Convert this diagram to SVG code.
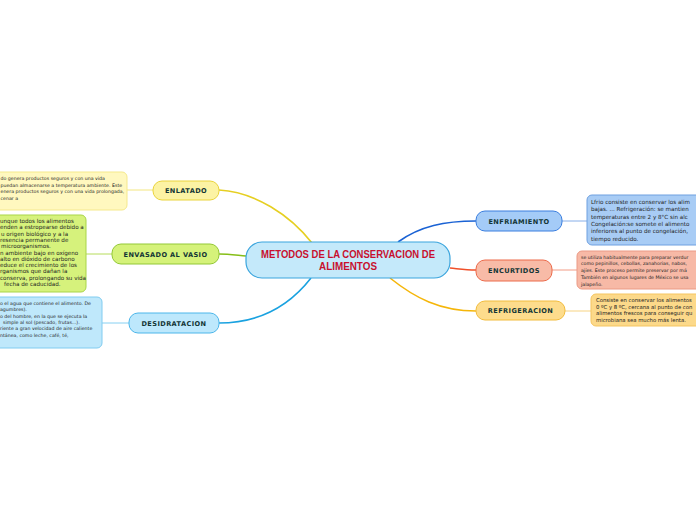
<svg xmlns="http://www.w3.org/2000/svg" width="696" height="520" viewBox="0 0 696 520">
<style>
.lbl{font-family:"DejaVu Sans",Verdana,sans-serif;font-weight:bold;font-size:6.6px;fill:#123535;text-anchor:middle;letter-spacing:0.4px}
.d{font-family:"DejaVu Sans",Verdana,sans-serif;font-size:4.7px;fill:#222}
.dr{font-family:"DejaVu Sans",Verdana,sans-serif;font-size:5.6px;fill:#222}
.dg{font-family:"DejaVu Sans",Verdana,sans-serif;font-size:5.3px;fill:#222}
.c{fill:none;stroke-width:1.6}
.cl{fill:none;stroke-width:1}
</style>
<rect width="696" height="520" fill="#ffffff"/>
<g id="connectors">
<path class="c" stroke="#e6cf22" d="M312,243 C290,215 255,192 219,190"/>
<path class="c" stroke="#86be18" d="M246,256 C235,255 228,254 219,254"/>
<path class="c" stroke="#1aa2e0" d="M311,278 C290,305 260,323 219,323"/>
<path class="c" stroke="#1a62d4" d="M398,242 C420,226 445,221 476,221"/>
<path class="c" stroke="#f0502a" d="M450,268 C460,269 466,270 476,270"/>
<path class="c" stroke="#f5b60a" d="M390,278 C415,298 440,311 476,311"/>
<path class="cl" stroke="#f3e680" d="M127,190 H153"/>
<path class="cl" stroke="#b6dc5a" d="M86,254 H112"/>
<path class="cl" stroke="#86d0f2" d="M102,323 H129"/>
<path class="cl" stroke="#86aee8" d="M562,221 H587"/>
<path class="cl" stroke="#f29c86" d="M552,270 H577"/>
<path class="cl" stroke="#f7d382" d="M565,311 H591"/>
</g>
<g id="central">
<rect x="246" y="242" width="204" height="36" rx="16" fill="#c4e9fa" stroke="#3ba5dd" stroke-width="1.2"/>
<text x="348" y="257.5" font-family="Liberation Sans,Arial,sans-serif" font-size="10.5" font-weight="bold" fill="#c8102e" text-anchor="middle" textLength="174" lengthAdjust="spacingAndGlyphs">METODOS DE LA CONSERVACION DE</text>
<text x="348" y="269.5" font-family="Liberation Sans,Arial,sans-serif" font-size="10.5" font-weight="bold" fill="#c8102e" text-anchor="middle" textLength="58" lengthAdjust="spacingAndGlyphs">ALIMENTOS</text>
</g>
<g id="enlatado">
<rect x="153" y="181" width="66" height="19" rx="9" fill="#fcf3a4" stroke="#ead43c" stroke-width="1"/>
<text class="lbl" x="186" y="193">ENLATADO</text>
</g>
<g id="envasado">
<rect x="112" y="244" width="107" height="20" rx="9" fill="#d5f27a" stroke="#93c836" stroke-width="1"/>
<text class="lbl" x="165.5" y="256.5">ENVASADO AL VASIO</text>
</g>
<g id="desidratacion">
<rect x="129" y="313" width="90" height="20" rx="9" fill="#bde8fc" stroke="#4cb6ea" stroke-width="1"/>
<text class="lbl" x="174" y="325.5">DESIDRATACION</text>
</g>
<g id="enfriamiento">
<rect x="476" y="211" width="86" height="20" rx="9" fill="#a4cbf7" stroke="#3a7edf" stroke-width="1"/>
<text class="lbl" x="519" y="223.5">ENFRIAMIENTO</text>
</g>
<g id="encurtidos">
<rect x="476" y="260" width="76" height="21" rx="9" fill="#f8bba7" stroke="#ec6a4a" stroke-width="1"/>
<text class="lbl" x="514" y="273">ENCURTIDOS</text>
</g>
<g id="refrigeracion">
<rect x="476" y="301" width="89" height="19" rx="9" fill="#fddc8c" stroke="#f2bc3c" stroke-width="1"/>
<text class="lbl" x="520.5" y="313">REFRIGERACION</text>
</g>
<g id="enlatado-detail">
<rect x="-10" y="172" width="137" height="38" rx="5" fill="#fff8bf" stroke="#f5e98c" stroke-width="1"/>
<text class="d" x="0.5" y="179.5">do genera productos seguros y con una vida</text>
<text class="d" x="0.5" y="186.5">puedan almacenarse a temperatura ambiente. Este</text>
<text class="d" x="0.5" y="192.5">enera productos seguros y con una vida prolongada,</text>
<text class="d" x="0.5" y="199.5">cenar a</text>
</g>
<g id="envasado-detail">
<rect x="-10" y="215" width="96" height="77" rx="5" fill="#d6f27c" stroke="#a9d548" stroke-width="1"/>
<text class="dr" x="0" y="223">unque todos los alimentos</text>
<text class="dr" x="0" y="229.3">enden a estropearse debido a</text>
<text class="dr" x="1" y="235.6">u origen biológico y a la</text>
<text class="dr" x="0" y="241.9">resencia permanente de</text>
<text class="dr" x="1" y="248.2">microorganismos.</text>
<text class="dr" x="0" y="254.5">n ambiente bajo en oxígeno</text>
<text class="dr" x="0" y="260.8">alto en dióxido de carbono</text>
<text class="dr" x="0" y="267.1">educe el crecimiento de los</text>
<text class="dr" x="0" y="273.4">rganismos que dañan la</text>
<text class="dr" x="0" y="279.7">conserva, prolongando su vida</text>
<text class="dr" x="4" y="286">fecha de caducidad.</text>
</g>
<g id="desidratacion-detail">
<rect x="-10" y="297" width="112" height="51" rx="5" fill="#bfe8fb" stroke="#80ccf0" stroke-width="1"/>
<text class="d" x="0" y="305">o el agua que contiene el alimento. De</text>
<text class="d" x="0" y="311.3">agumbres).</text>
<text class="d" x="0" y="317.6">o del hombre, en la que se ejecuta la</text>
<text class="d" x="3" y="323.9">simple al sol (pescado, frutas...).</text>
<text class="d" x="0" y="330.2">riente a gran velocidad de aire caliente</text>
<text class="d" x="0" y="336.5">ntánea, como leche, café, té,</text>
</g>
<g id="enfriamiento-detail">
<rect x="587" y="195" width="120" height="50" rx="5" fill="#a8ccf5" stroke="#6fa0e0" stroke-width="1"/>
<text class="dr" x="591" y="204">Lfrio consiste en conservar los alim</text>
<text class="dr" x="591" y="211.3">bajas. ... Refrigeración: se mantien</text>
<text class="dr" x="591" y="218.6">temperaturas entre 2 y 8°C sin alc</text>
<text class="dr" x="591" y="225.9">Congelación:se somete el alimento</text>
<text class="dr" x="591" y="233.2">inferiores al punto de congelación,</text>
<text class="dr" x="591" y="240.5">tiempo reducido.</text>
</g>
<g id="encurtidos-detail">
<rect x="577" y="251" width="130" height="38" rx="5" fill="#f7b9a6" stroke="#eb9a85" stroke-width="1"/>
<text class="d" x="581" y="258.5">se utiliza habitualmente para preparar verdur</text>
<text class="d" x="581" y="265.3">como pepinillos, cebollas, zanahorias, nabos,</text>
<text class="d" x="581" y="272.1">ajíes. Este proceso permite preservar por má</text>
<text class="d" x="581" y="278.9">También en algunos lugares de México se usa</text>
<text class="d" x="581" y="285.7">jalapeño.</text>
</g>
<g id="refrigeracion-detail">
<rect x="591" y="294" width="120" height="32" rx="5" fill="#fcd98a" stroke="#f5c560" stroke-width="1"/>
<text class="dg" x="596" y="302">Consiste en conservar los alimentos</text>
<text class="dg" x="596" y="308.6">0 ºC y 8 ºC, cercana al punto de con</text>
<text class="dg" x="596" y="315.2">alimentos frescos para conseguir qu</text>
<text class="dg" x="596" y="321.8">microbiana sea mucho más lenta.</text>
</g>
</svg>
